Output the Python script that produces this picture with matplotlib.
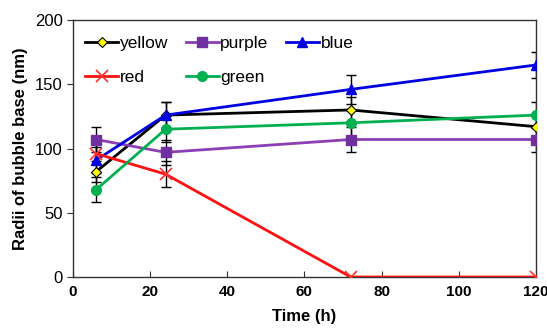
import matplotlib
matplotlib.use("Agg")
import matplotlib.pyplot as plt

plt.rcParams['font.family'] = ['Liberation Sans', 'DejaVu Sans']

time = [6, 24, 72, 120]
yellow = [82, 126, 130, 117]
purple = [107, 97, 107, 107]
blue = [91, 126, 146, 165]
red = [96, 80, 0, 0]
green = [68, 115, 120, 126]
err_yellow = [8, 10, 10, 10]
err_purple = [10, 10, 10, 10]
err_blue = [10, 10, 11, 10]
err_red = [8, 10, 0, 0]
err_green = [10, 10, 10, 10]

fig = plt.figure(figsize=(5.47, 3.28), dpi=100)
ax = fig.add_axes([0.1335, 0.1555, 0.846, 0.7835])

series = [
    ("yellow", yellow, err_yellow, dict(color='black', marker='D', markerfacecolor='yellow', markeredgecolor='black', markersize=5, markeredgewidth=0.8)),
    ("purple", purple, err_purple, dict(color='#8B3FB5', marker='s', markerfacecolor='#7030A0', markeredgecolor='#7030A0', markersize=7)),
    ("blue", blue, err_blue, dict(color='#0000E0', marker='^', markerfacecolor='#0000E0', markeredgecolor='#0000E0', markersize=7)),
    ("red", red, err_red, dict(color='#FF1010', marker='x', markeredgecolor='#FF3030', markersize=9, markeredgewidth=1.2)),
    ("green", green, err_green, dict(color='#00B050', marker='o', markerfacecolor='#00B050', markeredgecolor='#00B050', markersize=7)),
]
handles = {}
for name, vals, err, style in series:
    ax.errorbar(time, vals, yerr=err, fmt='none', ecolor='black', elinewidth=1.0, capsize=3.5, capthick=1.0, zorder=2)
for name, vals, err, style in series:
    h, = ax.plot(time, vals, linewidth=2, label=name, zorder=3, **style)
    handles[name] = h

order = ["yellow", "red", "purple", "green", "blue"]
ax.legend([handles[n] for n in order], order, ncol=3, loc='upper left', frameon=False,
          fontsize=12.5, handlelength=1.9, handletextpad=0.1, columnspacing=1.0,
          labelspacing=1.1, borderaxespad=0.3, bbox_to_anchor=(0.0, 0.985))

ax.set_xlim(0, 120)
ax.set_ylim(0, 200)
ax.set_xticks([0, 20, 40, 60, 80, 100, 120])
ax.set_yticks([0, 50, 100, 150, 200])
ax.tick_params(axis='x', direction='in', length=4, labelsize=11, pad=6, color='#333333')
ax.tick_params(axis='y', direction='out', length=4, labelsize=12, color='#333333')
for lab in ax.get_xticklabels():
    lab.set_fontweight('bold')
for sp in ax.spines.values():
    sp.set_color('#333333')
    sp.set_linewidth(1.0)
ax.set_xlabel('Time (h)', fontsize=12, fontweight='bold', labelpad=7)
ax.set_ylabel('Radii of bubble base (nm)', fontsize=12, fontweight='bold', labelpad=5)

fig.savefig('out.png', dpi=100)
